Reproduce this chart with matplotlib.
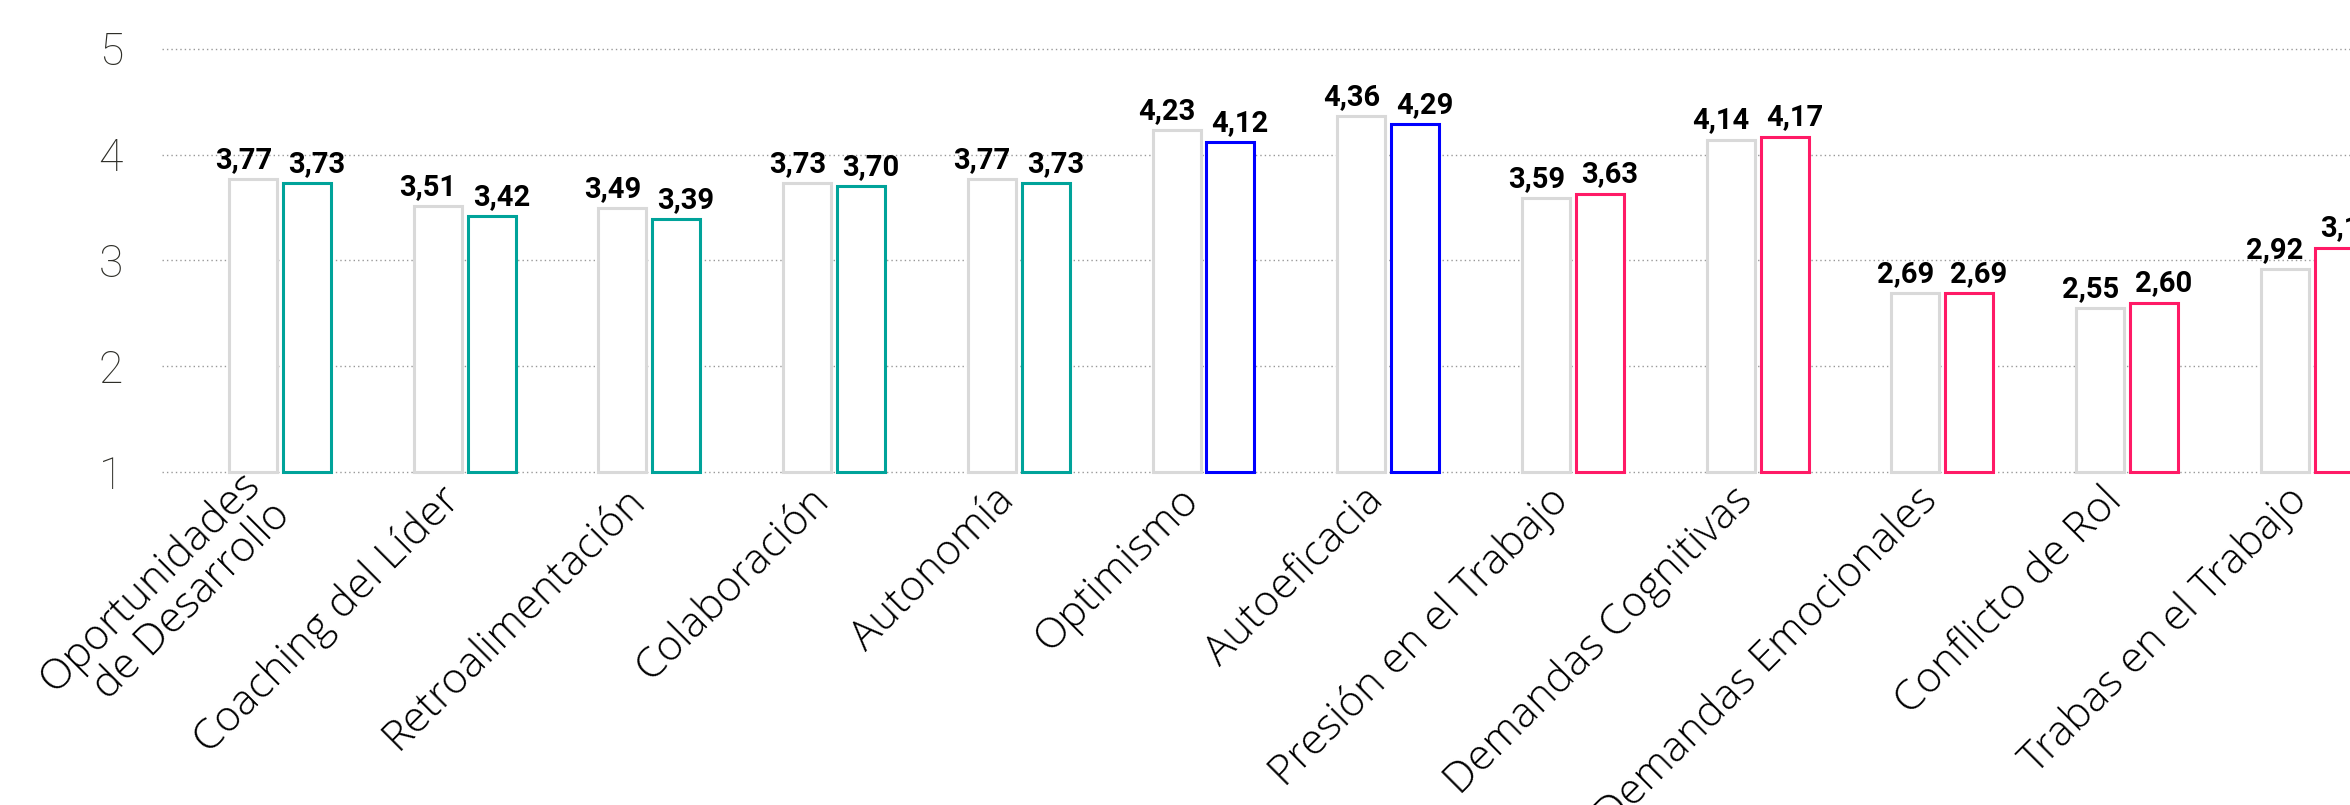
import matplotlib

matplotlib.use("Agg")
import matplotlib.pyplot as plt
import matplotlib.transforms as mtransforms
import numpy as np

# data
categories = [
    "Oportunidades\nde Desarrollo", "Coaching del Líder", "Retroalimentación",
    "Colaboración", "Autonomía", "Optimismo", "Autoeficacia",
    "Presión en el Trabajo", "Demandas Cognitivas", "Demandas Emocionales",
    "Conflicto de Rol", "Trabas en el Trabajo",
]
reference = [3.77, 3.51, 3.49, 3.73, 3.77, 4.23, 4.36, 3.59, 4.14, 2.69, 2.55, 2.92]
current = [3.73, 3.42, 3.39, 3.70, 3.73, 4.12, 4.29, 3.63, 4.17, 2.69, 2.60, 3.12]
groups = ["rec", "rec", "rec", "rec", "rec", "per", "per",
          "dem", "dem", "dem", "dem", "dem"]
yticks = [1, 2, 3, 4, 5]

group_colors = {"rec": "#00a39a", "per": "#0000ff", "dem": "#ff1a66"}
GRAY = "#d9d9d9"
BASE = 1

fig = plt.figure(figsize=(23.5, 8.05), dpi=100)
ax = fig.add_axes([0.0689, 0.4071, 1 - 0.0689, 1 - 0.4071])

x = np.arange(len(categories))
w = 0.26
off = 0.146
ref = np.array(reference)
cur = np.array(current)
edge = [group_colors[g] for g in groups]

ax.bar(x - off, ref - BASE, bottom=BASE, width=w, facecolor="white",
       edgecolor=GRAY, linewidth=2.2, zorder=3)
ax.bar(x + off, cur - BASE, bottom=BASE, width=w, facecolor="white",
       edgecolor=edge, linewidth=2.2, zorder=3)

for xi, v in zip(x, ref):
    ax.annotate(f"{v:.2f}".replace(".", ","), (xi - off, v),
                xytext=(-7, 8), textcoords="offset points",
                ha="center", va="baseline", fontsize=21,
                fontweight="bold", family=["Roboto", "DejaVu Sans"],
                color="black", zorder=4)
for xi, v in zip(x, cur):
    ax.annotate(f"{v:.2f}".replace(".", ","), (xi + off, v),
                xytext=(7, 8), textcoords="offset points",
                ha="center", va="baseline", fontsize=21,
                fontweight="bold", family=["Roboto", "DejaVu Sans"],
                color="black", zorder=4, annotation_clip=False)

ax.set_xlim(-0.639, 11.207)
ax.set_ylim(0.95, 5.46)
ax.set_yticks(yticks)
ax.set_yticklabels([str(t) for t in yticks], fontsize=32,
                   family=["Roboto", "DejaVu Sans"], fontweight="light",
                   color="#2e2e28")
ax.tick_params(axis="y", length=0, pad=28)
ax.tick_params(axis="x", length=0, pad=12)
ax.set_xticks(x)
ax.set_xticklabels(categories, rotation=45, ha="right", va="center",
                   rotation_mode="anchor", fontsize=31,
                   family=["Open Sans", "DejaVu Sans"], fontweight="light",
                   color="black", linespacing=1.05)
shift = mtransforms.ScaledTranslation(-8 / 72, 0, fig.dpi_scale_trans)
for lab in ax.get_xticklabels():
    lab.set_transform(lab.get_transform() + shift)

ax.grid(axis="y", color="#999999", linestyle=(0, (1, 2.2)), linewidth=1.0,
        zorder=1)
ax.set_axisbelow(True)
for s in ax.spines.values():
    s.set_visible(False)

fig.savefig("out.png", dpi=100)
